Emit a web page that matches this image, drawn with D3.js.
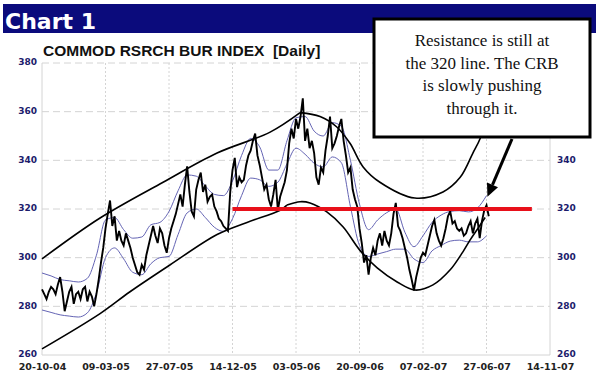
<!DOCTYPE html>
<html>
<head>
<meta charset="utf-8">
<script src="https://cdn.jsdelivr.net/npm/d3@7"></script>
<style>
  body { margin: 0; background: #fff; }
  svg { display: block; }
  .grid line { stroke: #d4d4d4; stroke-width: 1; }
  .axis-y text { fill: #1c1c6c; font-family: "DejaVu Sans", sans-serif; font-weight: bold; font-size: 9px; }
  .axis-x text { fill: #222; font-family: "DejaVu Sans", sans-serif; font-weight: bold; font-size: 9.5px; }
  .axis path, .axis line { display: none; }
</style>
</head>
<body>
<div id="chart"></div>
<script>
var W = 596, H = 383;
var plot = {l: 42, r: 550, t: 63, b: 355};

// tick labels
var xTickLabels = ["20-10-04","09-03-05","27-07-05","14-12-05","03-05-06","20-09-06","07-02-07","27-06-07","14-11-07"];
var yTicks = [260, 280, 300, 320, 340, 360, 380];

// daily index, sampled every 5 days from 20-10-04
var priceStart = "2004-10-20";
var priceStep = 5;
var price = [
  287,285,283,286,288,287,285,289,292,286,
  278,282,286,288,281,285,286,283,287,288,
  282,286,284,280,285,291,298,304,312,318,
  323.5,313,317,307,311,307,305,310,307,304,
  300,297,294,293,297,295,301,305,309,313,
  309,306,312,310,305,302,308,312,315,318,
  322,326,321,330,337.5,327,319,317,328,332,
  335,327,330,323,325,326,321,319,316,315,
  313,312,311,327,336,341,329,333,331,332,
  338,342,344,348,351,342,338,333,328,330,
  324,321,326,332,319.5,325,328,331,336,347,
  353,349,357,353,358,365.5,348,353,345,348,
  343,333,330,337,335,344,350,358,345,347,
  350,354,357,348,342,335,337,328,324,321,
  312,306,298,301,293,300,304,301,307,310,
  305,311,307,305,310,318,322.5,313,311,308,
  304,300,295,291,286.5,292,296,300,302,301,
  305,309,313,315.5,310,307,305,308,312,317,
  319,314,315,312,311,312,309,310,313,315,
  310,314,316,308,315,319.5,321.5,317
];

// envelope bands, sampled every 20 days from 20-10-04
var bandStep = 20;
var bandUpper = [
  293.7,292.5,291,290.5,290,291.5,301,315.5,316.5,311.5,
  308,308.5,313.5,314.5,319,327.5,334,333.5,329.5,326,
  325.5,331.5,342,349,345.5,336,336,348,357.5,358,
  352,350,355.5,354,340,322,311.5,315.5,318.5,320,
  310.5,304.5,309,314.5,317.5,319,319.3,318.8,320.4,325.5
];
var bandLower = [
  278.5,277.5,276.5,276,275.6,277.3,285.5,300,304,299.5,
  294,293,297.5,300,300.5,309.5,318.4,320,316.5,312.5,
  310.8,316,325.5,332.7,332,329.3,331,338.5,345,342.5,
  338.8,337.3,341.4,339,321,305,300.5,301.5,302.5,303.5,
  303.5,299.5,298,302.8,305,306.8,307.2,306.5,306.5,309
];

// hand-drawn trend channel and bowl
var channelUpper = [["2004-10-20",299.5],["2005-02-25",316.3],["2005-07-14",331],["2005-11-10",343],["2006-03-07",351.6],["2006-05-12",359.6]];
var channelLower = [["2004-10-20",262.5],["2005-02-25",277],["2005-05-02",286],["2005-07-29",297],["2005-11-10",309.5],["2006-01-15",314.5],["2006-03-29",319.5],["2006-04-13",321.6]];
var bowlUpper = [["2006-05-12",359.6],["2006-06-25",358],["2006-08-01",353.7],["2006-08-30",347],["2006-09-28",337.3],["2006-11-04",331],["2007-01-20",324.5],["2007-03-23",327],["2007-04-30",333],["2007-05-28",343],["2007-06-13",349],["2007-07-04",362],["2007-07-22",375]];
var bowlLower = [["2006-04-13",321.6],["2006-05-12",323],["2006-06-03",322.5],["2006-07-10",318.8],["2006-08-15",312.6],["2006-09-21",303],["2006-10-29",295.8],["2006-12-12",290],["2007-01-20",286.7],["2007-03-01",288.8],["2007-04-08",295],["2007-05-06",302.4],["2007-05-22",307.3],["2007-06-08",312],["2007-06-24",316.5]];

var resistance = {from: "2005-12-14", to: "2007-10-05", value: 320};
var calloutLines = ["Resistance is still at", "the 320 line. The CRB", "is slowly pushing", "through it."];

var parseTick = d3.timeParse("%d-%m-%y");
var parseDay = d3.timeParse("%Y-%m-%d");
var t0 = parseDay(priceStart);

var svg = d3.select("#chart").append("svg").attr("width", W).attr("height", H);

// header bar
svg.append("rect").attr("x", 3).attr("y", 4).attr("width", W - 3).attr("height", 29).attr("fill", "#0b0b7c");
svg.append("text").attr("x", 5).attr("y", 29).text("Chart 1")
  .attr("fill", "#fff").attr("font-family", "DejaVu Sans, sans-serif").attr("font-weight", "bold").attr("font-size", 22);

svg.append("text").attr("x", 43).attr("y", 56).text("COMMOD RSRCH BUR INDEX  [Daily]")
  .attr("fill", "#111").attr("font-family", "Liberation Sans, Arial, sans-serif").attr("font-weight", "bold").attr("font-size", 15.5)
  .style("white-space", "pre");

var scaleX = d3.scaleTime().domain([parseTick(xTickLabels[0]), parseTick(xTickLabels[xTickLabels.length - 1])]).range([plot.l, plot.r]);
var scaleY = d3.scaleLinear().domain([260, 380]).range([plot.b, plot.t]);

// grid
var grid = svg.append("g").attr("class", "grid");
grid.selectAll(".h").data(yTicks).enter().append("line")
  .attr("x1", plot.l).attr("x2", plot.r)
  .attr("y1", function(d){ return scaleY(d); }).attr("y2", function(d){ return scaleY(d); })
  .attr("stroke-dasharray", function(d){ return (d == 260) ? null : "7,4"; });
grid.selectAll(".v").data(xTickLabels).enter().append("line")
  .attr("x1", function(d){ return scaleX(parseTick(d)); }).attr("x2", function(d){ return scaleX(parseTick(d)); })
  .attr("y1", plot.t).attr("y2", plot.b)
  .attr("stroke-dasharray", function(d, i){ return (i == 0 || i == xTickLabels.length - 1) ? null : "2,2"; });

// axes
var axisL = d3.axisLeft(scaleY).tickValues(yTicks).tickSize(0).tickPadding(5);
var axisR = d3.axisRight(scaleY).tickValues(yTicks).tickSize(0).tickPadding(7);
var axisB = d3.axisBottom(scaleX).tickValues(xTickLabels.map(parseTick)).tickSize(0).tickPadding(8)
  .tickFormat(d3.timeFormat("%d-%m-%y"));
svg.append("g").attr("class", "axis axis-y").attr("transform", "translate(" + plot.l + ",-1)").call(axisL);
svg.append("g").attr("class", "axis axis-y").attr("transform", "translate(" + plot.r + ",-1)").call(axisR);
svg.append("g").attr("class", "axis axis-x").attr("transform", "translate(0," + plot.b + ")").call(axisB);

// envelope bands
var bandLine = d3.line()
  .x(function(d, i){ return scaleX(d3.timeDay.offset(t0, i * bandStep)); })
  .y(function(d){ return scaleY(d); })
  .curve(d3.curveMonotoneX);
svg.append("path").datum(bandUpper).attr("d", bandLine).attr("fill", "none").attr("stroke", "#6464b4").attr("stroke-width", 1);
svg.append("path").datum(bandLower).attr("d", bandLine).attr("fill", "none").attr("stroke", "#6464b4").attr("stroke-width", 1);

// channel + bowl
var trendLine = d3.line()
  .x(function(d){ return scaleX(parseDay(d[0])); })
  .y(function(d){ return scaleY(d[1]); })
  .curve(d3.curveCatmullRom);
[channelUpper, channelLower, bowlUpper, bowlLower].forEach(function(c){
  svg.append("path").datum(c).attr("d", trendLine).attr("fill", "none").attr("stroke", "#000").attr("stroke-width", 1.6);
});

// price
var priceLine = d3.line()
  .x(function(d, i){ return scaleX(d3.timeDay.offset(t0, i * priceStep)); })
  .y(function(d){ return scaleY(d); });
svg.append("path").datum(price).attr("d", priceLine).attr("fill", "none").attr("stroke", "#000").attr("stroke-width", 1.9).attr("stroke-linejoin", "miter");

// resistance line
svg.append("line")
  .attr("x1", scaleX(parseDay(resistance.from))).attr("x2", scaleX(parseDay(resistance.to)))
  .attr("y1", scaleY(resistance.value)).attr("y2", scaleY(resistance.value))
  .attr("stroke", "#e8101a").attr("stroke-width", 4);

// callout
svg.append("rect").attr("x", 374).attr("y", 19).attr("width", 216).attr("height", 118)
  .attr("fill", "#fff").attr("stroke", "#000").attr("stroke-width", 3);
svg.append("g").selectAll("text").data(calloutLines).enter().append("text")
  .attr("x", 482).attr("y", function(d, i){ return 46 + i * 22.7; })
  .attr("text-anchor", "middle").attr("font-family", "Liberation Serif, Times New Roman, serif").attr("font-size", 17)
  .attr("fill", "#111").text(function(d){ return d; });

// arrow
var tipX = scaleX(parseDay("2007-06-29")), tipY = scaleY(325);
var tailX = 512, tailY = 139;
var ang = Math.atan2(tipY - tailY, tipX - tailX);
var hl = 13, hw = 6;
var bx = tipX - hl * Math.cos(ang), by = tipY - hl * Math.sin(ang);
svg.append("line").attr("x1", tailX).attr("y1", tailY).attr("x2", bx).attr("y2", by)
  .attr("stroke", "#000").attr("stroke-width", 3);
svg.append("path")
  .attr("d", "M" + tipX + "," + tipY +
    "L" + (bx + hw * Math.sin(ang)) + "," + (by - hw * Math.cos(ang)) +
    "L" + (bx - hw * Math.sin(ang)) + "," + (by + hw * Math.cos(ang)) + "Z")
  .attr("fill", "#000");
</script>
</body>
</html>
